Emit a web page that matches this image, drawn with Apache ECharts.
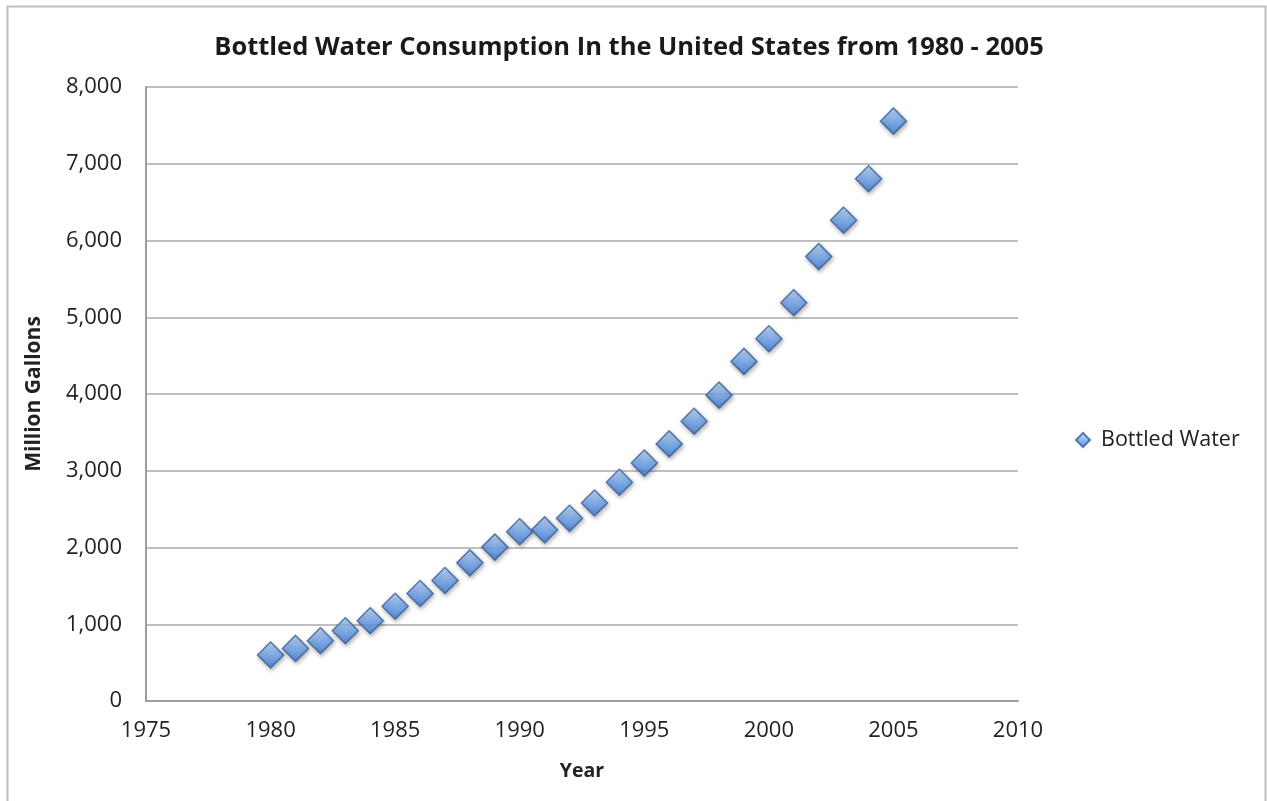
<!DOCTYPE html>
<html>
<head>
<meta charset="utf-8">
<title>Bottled Water Consumption</title>
<script src="https://cdn.jsdelivr.net/npm/echarts@6/dist/echarts.min.js"></script>
<style>
  html, body { margin: 0; padding: 0; background: #ffffff; }
  #chart { width: 1267px; height: 801px; }
</style>
</head>
<body>
<div id="chart"></div>
<script>
// Annual US bottled water consumption, million gallons
const years = [1980, 1981, 1982, 1983, 1984, 1985, 1986, 1987, 1988, 1989,
               1990, 1991, 1992, 1993, 1994, 1995, 1996, 1997, 1998, 1999,
               2000, 2001, 2002, 2003, 2004, 2005];
const gallons = [600, 685, 785, 915, 1045, 1235, 1400, 1570, 1800, 2005,
                 2205, 2230, 2380, 2580, 2850, 3100, 3350, 3645, 3985, 4425,
                 4720, 5190, 5790, 6265, 6805, 7555];
const seriesName = 'Bottled Water';
const titleText = 'Bottled Water Consumption In the United States from 1980 - 2005';
const xAxisName = 'Year';
const yAxisName = 'Million Gallons';

const points = years.map((y, i) => [y, gallons[i]]);

const diamondFill = new echarts.graphic.LinearGradient(0, 0, 0, 1, [
  { offset: 0, color: '#c6e0fd' },
  { offset: 0.5, color: '#6fa6f0' },
  { offset: 1, color: '#3a76d0' }
]);

const font = '"Open Sans", "Liberation Sans", sans-serif';

const chart = echarts.init(document.getElementById('chart'));
chart.setOption({
  animation: false,
  backgroundColor: '#ffffff',
  graphic: [{
    type: 'rect',
    shape: { x: 7.5, y: 6.5, width: 1258, height: 800 },
    style: { fill: 'none', stroke: '#bdbdbd', lineWidth: 2 },
    silent: true
  }],
  title: {
    text: titleText,
    left: 624,
    top: 30,
    textAlign: 'center',
    textStyle: { fontFamily: font, fontWeight: 'bold', fontSize: 25.5, color: '#1a1a1a' }
  },
  legend: {
    data: [seriesName],
    orient: 'vertical',
    left: 1070,
    top: 424,
    itemWidth: 14,
    itemHeight: 14,
    itemGap: 6,
    textStyle: { fontFamily: font, fontSize: 21.5, color: '#222', padding: [0, 0, 0, 6] },
    icon: 'diamond'
  },
  grid: { left: 146, right: 249, top: 87, bottom: 100, containLabel: false },
  xAxis: {
    type: 'value',
    min: 1975,
    max: 2010,
    interval: 5,
    name: xAxisName,
    nameLocation: 'middle',
    nameGap: 60,
    nameTextStyle: { fontFamily: font, fontWeight: 'bold', fontSize: 19.5, color: '#222' },
    axisLine: { show: true, lineStyle: { color: '#9e9e9e', width: 2 } },
    axisTick: { show: false },
    splitLine: { show: false },
    axisLabel: { fontFamily: font, fontSize: 22, color: '#222', margin: 19, formatter: v => String(v) }
  },
  yAxis: {
    type: 'value',
    min: 0,
    max: 8000,
    interval: 1000,
    name: yAxisName,
    nameLocation: 'middle',
    nameGap: 101,
    nameRotate: 90,
    nameTextStyle: { fontFamily: font, fontWeight: 'bold', fontSize: 21, color: '#222' },
    axisLine: { show: true, lineStyle: { color: '#9e9e9e', width: 2 } },
    axisTick: { show: false },
    splitLine: { show: true, lineStyle: { color: '#bfbfbf', width: 2 } },
    axisLabel: {
      fontFamily: font, fontSize: 22, color: '#222', margin: 24,
      formatter: v => v.toLocaleString('en-US')
    }
  },
  series: [{
    name: seriesName,
    type: 'scatter',
    data: points,
    symbol: 'diamond',
    symbolSize: [26, 26],
    itemStyle: {
      color: diamondFill,
      borderColor: '#365f9a',
      borderWidth: 1.5,
      shadowBlur: 4,
      shadowOffsetX: 1,
      shadowOffsetY: 2,
      shadowColor: 'rgba(0,0,0,0.35)'
    }
  }]
});
</script>
</body>
</html>
